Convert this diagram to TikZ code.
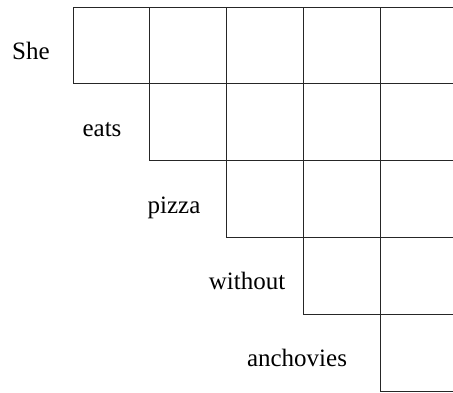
\documentclass[tikz,border=0pt]{standalone}
\usepackage{fontspec}
\setmainfont{Liberation Serif}
\begin{document}
\begin{tikzpicture}[x=1pt,y=-1pt,
  cell/.style={draw=black!85,line width=0.8pt,minimum width=76.8pt,minimum height=76.8pt,inner sep=0pt,outer sep=0pt,anchor=north west},
  word/.style={font=\fontsize{25}{30}\selectfont,anchor=base,inner sep=0pt}]
\clip (0,0) rectangle (453,392);
\foreach \i in {1,...,5}{
  \foreach \j in {\i,...,5}{
    \node[cell] (c-\i-\j) at ({73+76.8*(\j-1)},{7+76.8*(\i-1)}) {};
  }
}
\node[word] (w1) at (31,59) {She};
\node[word] (w2) at (102,136) {eats};
\node[word] (w3) at (174,213) {pizza};
\node[word] (w4) at (247,289) {without};
\node[word] (w5) at (297,366) {anchovies};
\end{tikzpicture}
\end{document}
